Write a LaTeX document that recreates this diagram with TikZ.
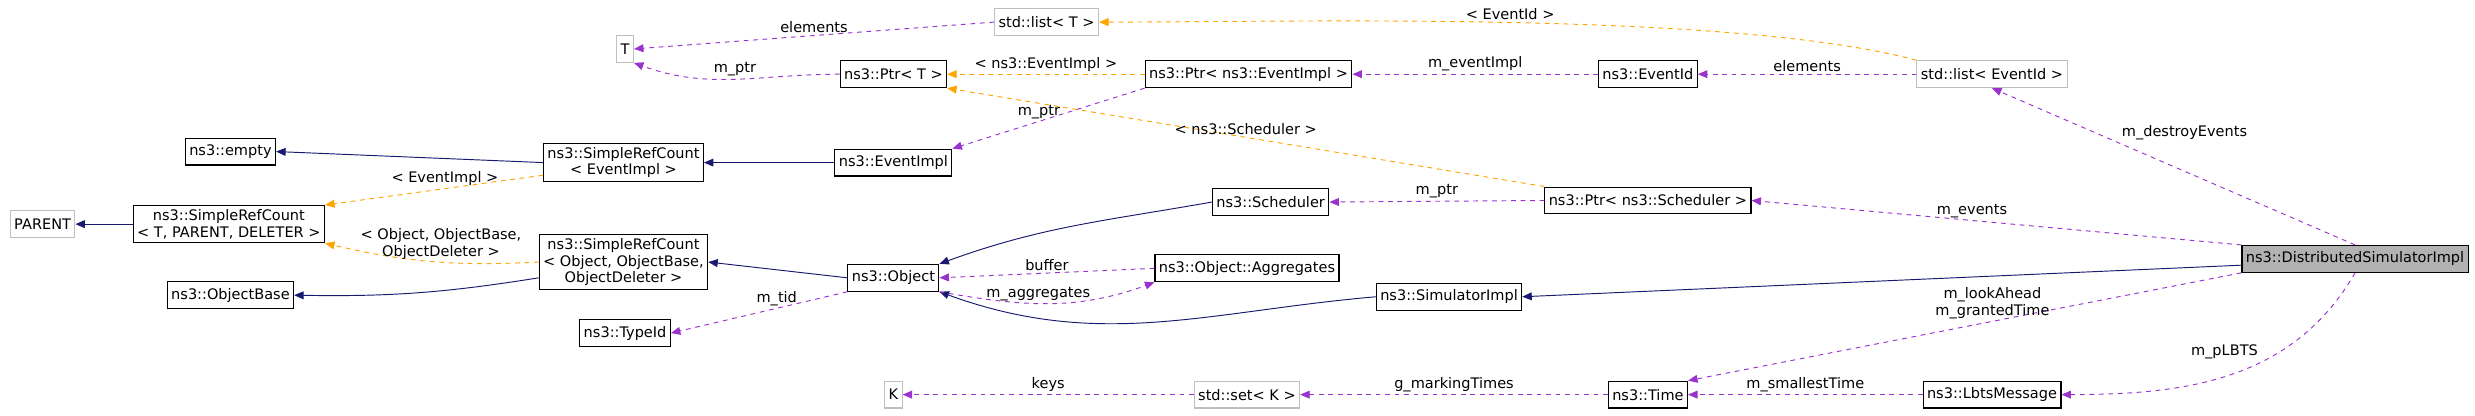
\documentclass[tikz,border=0pt]{standalone}
\usepackage{fontspec}
\setmainfont{DejaVu Sans}
\usetikzlibrary{arrows.meta}

\definecolor{inhcol}{HTML}{191970}
\definecolor{usecol}{HTML}{9A32CD}
\definecolor{tplcol}{HTML}{FFA500}

\tikzset{
  cls/.style = {draw, rectangle, inner sep=2.5pt, minimum height=17pt,
    align=center, font=\fontsize{9.2}{10.5}\selectfont, line width=0.7pt},
  ext/.style = {cls, draw=black!25},
  lbl/.style = {font=\fontsize{9.2}{10.5}\selectfont, align=center, text=black, inner sep=1.5pt},
  tip/.style = {-{Triangle[length=6pt,width=5pt]}},
  inh/.style = {tip, color=inhcol, line width=0.6pt},
  use/.style = {tip, color=usecol, line width=0.6pt, dash pattern=on 3pt off 3pt},
  tpl/.style = {tip, color=tplcol, line width=0.6pt, dash pattern=on 3pt off 3pt},
}

\begin{document}
\begin{tikzpicture}[x=1pt, y=-1pt]
\useasboundingbox (0,0) rectangle (1568,263.5);

% classes
\node[ext] (T) at (396,31) {T};
\node[ext] (listT) at (663,14) {std::list\textless{} T \textgreater};
\node[cls] (ptrT) at (566,47) {ns3::Ptr\textless{} T \textgreater};
\node[cls] (ptrEv) at (791,47) {ns3::Ptr\textless{} ns3::EventImpl \textgreater};
\node[cls] (evId) at (1044,47) {ns3::EventId};
\node[ext] (listEv) at (1262,47) {std::list\textless{} EventId \textgreater};
\node[cls] (empty) at (146,96) {ns3::empty};
\node[cls] (srcEv) at (395,103) {ns3::SimpleRefCount\\\textless{} EventImpl \textgreater};
\node[cls] (evImpl) at (566,103) {ns3::EventImpl};
\node[ext] (parent) at (27,142) {PARENT};
\node[cls] (srcT) at (145,142) {ns3::SimpleRefCount\\\textless{} T, PARENT, DELETER \textgreater};
\node[cls] (sched) at (805,128) {ns3::Scheduler};
\node[cls] (ptrSch) at (1044,127) {ns3::Ptr\textless{} ns3::Scheduler \textgreater};
\node[cls] (aggr) at (790,170) {ns3::Object::Aggregates};
\node[cls] (srcObj) at (395,166) {ns3::SimpleRefCount\\\textless{} Object, ObjectBase,\\ObjectDeleter \textgreater};
\node[cls] (obj) at (566,176) {ns3::Object};
\node[cls] (objBase) at (146,187) {ns3::ObjectBase};
\node[cls] (simImpl) at (918,188) {ns3::SimulatorImpl};
\node[cls, fill=black!30] (dsi) at (1492,164) {ns3::DistributedSimulatorImpl};
\node[cls] (typeId) at (396,211) {ns3::TypeId};
\node[ext] (K) at (566,250) {K};
\node[ext] (setK) at (790,250) {std::set\textless{} K \textgreater};
\node[cls] (time) at (1044,250) {ns3::Time};
\node[cls] (lbts) at (1262,250) {ns3::LbtsMessage};

% inheritance
\draw[inh] (srcEv.west) -- (empty.east);
\draw[inh] (evImpl) -- (srcEv);
\draw[inh] (srcT) -- (parent);
\draw[inh] (srcObj.west |- 0,176) to[bend left=5] (objBase.east);
\draw[inh] (obj.west) -- (srcObj.east);
\draw[inh] (sched.west) to[out=190, in=20] (obj.north east);
\draw[inh] (simImpl.west) to[out=185, in=-20] (obj.south east);
\draw[inh] (dsi.west |- 0,168) -- (simImpl.east);

% templates
\draw[tpl] (srcEv.west |- 0,111) -- node[lbl, above, pos=0.45] {\textless{} EventImpl \textgreater} (srcT.north east);
\draw[tpl] (srcObj.west |- 0,166) to[bend left=8] node[lbl, above, pos=0.45] {\textless{} Object, ObjectBase,\\ObjectDeleter \textgreater} (srcT.south east);
\draw[tpl] (ptrEv) -- node[lbl, above] {\textless{} ns3::EventImpl \textgreater} (ptrT);
\draw[tpl] (ptrSch.north west) -- node[lbl, above, pos=0.5] {\textless{} ns3::Scheduler \textgreater} (ptrT.south east);
\draw[tpl] (listEv.north west) to[out=165, in=0, looseness=0.6] node[lbl, above, pos=0.5] {\textless{} EventId \textgreater} (listT.east);

% usage
\draw[use] (listT.west) -- node[lbl, above] {elements} (T.east);
\draw[use] (ptrT.west) to[out=180, in=-20] node[lbl, above] {m\_ptr} (T.south east);
\draw[use] (ptrEv.south west) -- node[lbl, above, pos=0.55] {m\_ptr} (evImpl.north east);
\draw[use] (evId) -- node[lbl, above] {m\_eventImpl} (ptrEv);
\draw[use] (listEv) -- node[lbl, above] {elements} (evId);
\draw[use] (dsi.north) -- node[lbl, above right, pos=0.65] {m\_destroyEvents} (listEv.south);
\draw[use] (ptrSch.west) -- node[lbl, above] {m\_ptr} (sched.east);
\draw[use] (dsi.north west) -- node[lbl, above, pos=0.55] {m\_events} (ptrSch.east);
\draw[use] (aggr.west) -- node[lbl, above] {buffer} (obj.east);
\draw[use] (obj.south east) to[out=-10, in=200] node[lbl, above, pos=0.45] {m\_aggregates} (aggr.south west);
\draw[use] (obj.south west) -- node[lbl, above, pos=0.4] {m\_tid} (typeId.east);
\draw[use] (dsi.south west) -- node[lbl, above, pos=0.45] {m\_lookAhead\\m\_grantedTime} (time.north east);
\draw[use] (dsi.south) to[out=-120, in=0] node[lbl, above left, pos=0.4] {m\_pLBTS} (lbts.east);
\draw[use] (lbts) -- node[lbl, above] {m\_smallestTime} (time);
\draw[use] (time) -- node[lbl, above] {g\_markingTimes} (setK);
\draw[use] (setK) -- node[lbl, above] {keys} (K);
\end{tikzpicture}
\end{document}
